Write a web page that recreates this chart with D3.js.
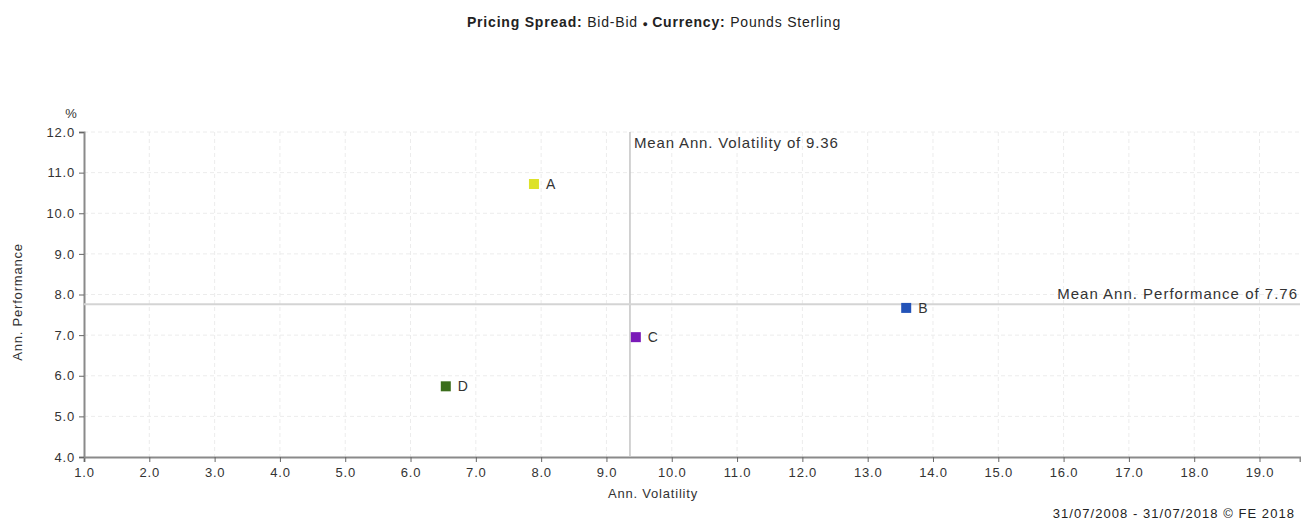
<!DOCTYPE html>
<html>
<head>
<meta charset="utf-8">
<script src="https://cdn.jsdelivr.net/npm/d3@7"></script>
<style>
body { margin: 0; background: #fff; }
text { font-family: "Liberation Sans", Arial, sans-serif; }
</style>
</head>
<body>
<script>
var width = 1301, height = 520;
var names = ["A", "B", "C", "D"];
var volatility = [7.89, 13.59, 9.45, 6.54];
var performance = [10.72, 7.67, 6.95, 5.74];
var colours = ["#dde22a", "#2353b8", "#7a1ab8", "#3b6e1c"];
var xTicks = [1, 2, 3, 4, 5, 6, 7, 8, 9, 10, 11, 12, 13, 14, 15, 16, 17, 18, 19];
var yTicks = [4, 5, 6, 7, 8, 9, 10, 11, 12];
var meanVol = 9.36, meanPerf = 7.76;

var x = d3.scaleLinear().domain([1, 19.62]).range([84, 1300]);
var y = d3.scaleLinear().domain([4, 12]).range([457, 132]);

var svg = d3.select("body").append("svg")
    .attr("width", width)
    .attr("height", height);

// title
var title = svg.append("text")
    .attr("x", 654).attr("y", 27)
    .attr("text-anchor", "middle")
    .attr("font-size", 14).attr("letter-spacing", 0.8).attr("fill", "#222");
title.append("tspan").attr("font-weight", "bold").text("Pricing Spread: ");
title.append("tspan").text("Bid-Bid ");
title.append("tspan").text("\u25CF ").attr("font-size", 9);
title.append("tspan").attr("font-weight", "bold").text("Currency: ");
title.append("tspan").text("Pounds Sterling");

// grid
svg.append("g").selectAll("line").data(xTicks.slice(1)).enter().append("line")
    .attr("x1", function (d) { return x(d); })
    .attr("x2", function (d) { return x(d); })
    .attr("y1", y(12)).attr("y2", y(4))
    .attr("stroke", "#ececec").attr("stroke-dasharray", "4,3");
svg.append("g").selectAll("line").data(yTicks.slice(1)).enter().append("line")
    .attr("x1", x(1)).attr("x2", 1300)
    .attr("y1", function (d) { return y(d); })
    .attr("y2", function (d) { return y(d); })
    .attr("stroke", "#ececec").attr("stroke-dasharray", "4,3");

// axes
var xAxis = svg.append("g")
    .attr("transform", "translate(0," + y(4) + ")")
    .call(d3.axisBottom(x).tickValues(xTicks).tickFormat(d3.format(".1f")).tickSize(5).tickPadding(6));
var yAxis = svg.append("g")
    .attr("transform", "translate(" + x(1) + ",0)")
    .call(d3.axisLeft(y).tickValues(yTicks).tickFormat(d3.format(".1f")).tickSize(5).tickPadding(4));
[xAxis, yAxis].forEach(function (g) {
    g.select(".domain").attr("stroke", "#8a8a8a").attr("stroke-width", 2);
    g.selectAll(".tick line").attr("stroke", "#666");
    g.selectAll(".tick text").attr("fill", "#333").attr("font-size", 13)
        .attr("letter-spacing", 0.8)
        .attr("font-family", "Liberation Sans, Arial, sans-serif");
});

// mean lines
svg.append("line")
    .attr("x1", x(meanVol)).attr("x2", x(meanVol))
    .attr("y1", y(12)).attr("y2", y(4))
    .attr("stroke", "#c4c4c4").attr("stroke-width", 1.5);
svg.append("line")
    .attr("x1", x(1)).attr("x2", 1300)
    .attr("y1", y(meanPerf)).attr("y2", y(meanPerf))
    .attr("stroke", "#d4d4d4").attr("stroke-width", 2);
svg.append("text")
    .attr("x", x(meanVol) + 4).attr("y", 148)
    .attr("font-size", 15).attr("letter-spacing", 0.85).attr("fill", "#333")
    .text("Mean Ann. Volatility of " + meanVol);
svg.append("text")
    .attr("x", 1298).attr("y", y(meanPerf) - 5)
    .attr("text-anchor", "end")
    .attr("font-size", 15).attr("letter-spacing", 1.0).attr("fill", "#333")
    .text("Mean Ann. Performance of " + meanPerf);

// points
var pts = svg.append("g").selectAll("g").data(names).enter().append("g")
    .attr("transform", function (d, i) { return "translate(" + x(volatility[i]) + "," + y(performance[i]) + ")"; });
pts.append("rect")
    .attr("x", -5).attr("y", -5).attr("width", 10).attr("height", 10)
    .attr("fill", function (d, i) { return colours[i]; });
pts.append("text")
    .attr("x", 12).attr("y", 5)
    .attr("font-size", 14).attr("fill", "#333")
    .text(function (d) { return d; });

// axis titles
svg.append("text")
    .attr("x", 71).attr("y", 118)
    .attr("text-anchor", "middle")
    .attr("font-size", 13).attr("fill", "#333").text("%");
svg.append("text")
    .attr("transform", "translate(22,302) rotate(-90)")
    .attr("text-anchor", "middle")
    .attr("font-size", 13).attr("letter-spacing", 0.8).attr("fill", "#333").text("Ann. Performance");
svg.append("text")
    .attr("x", 653).attr("y", 498)
    .attr("text-anchor", "middle")
    .attr("font-size", 13).attr("letter-spacing", 0.8).attr("fill", "#333").text("Ann. Volatility");
svg.append("text")
    .attr("x", 1295).attr("y", 518)
    .attr("text-anchor", "end")
    .attr("font-size", 13).attr("letter-spacing", 1.05).attr("fill", "#222").text("31/07/2008 - 31/07/2018 \u00A9 FE 2018");
</script>
</body>
</html>
